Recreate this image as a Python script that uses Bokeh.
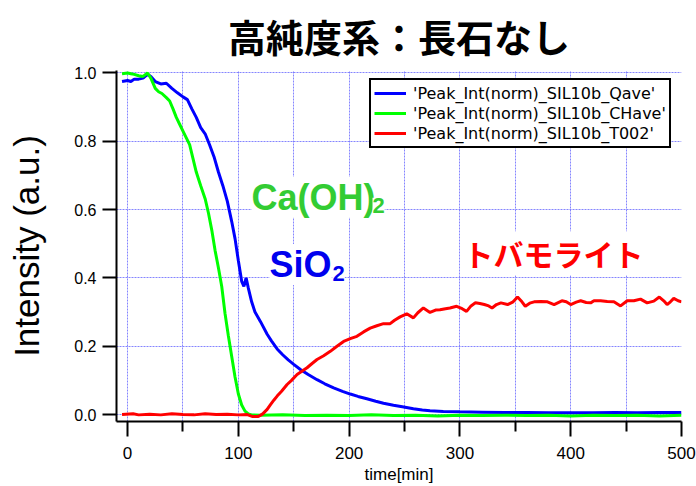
from bokeh.plotting import figure
from bokeh.models import FixedTicker, Label, Legend, LegendItem, Range1d, NumeralTickFormatter
from bokeh.embed import file_html
from bokeh.resources import INLINE

# ---- data ----
t_qave = [-5, 0, 3, 6, 10, 14, 18, 21, 25, 30, 35, 40, 45, 50, 54, 58, 62, 66, 70, 74, 78,
          82, 86, 90, 94, 97, 100, 103, 105, 107, 109, 112, 115, 120, 126, 130, 135, 140,
          145, 150, 156, 163, 171, 178, 186, 194, 201, 208, 216, 224, 231, 240, 248, 258,
          266, 273, 285, 300, 320, 340, 360, 380, 400, 420, 440, 460, 480, 500]
v_qave = [0.975, 0.978, 0.975, 0.982, 0.982, 0.985, 0.996, 0.99, 0.975, 0.968, 0.97, 0.955,
          0.942, 0.93, 0.922, 0.895, 0.87, 0.84, 0.822, 0.79, 0.755, 0.71, 0.67, 0.625,
          0.565, 0.515, 0.45, 0.39, 0.375, 0.40, 0.37, 0.33, 0.30, 0.272, 0.235, 0.215,
          0.192, 0.175, 0.16, 0.147, 0.132, 0.117, 0.102, 0.09, 0.078, 0.068, 0.06, 0.053,
          0.046, 0.039, 0.033, 0.027, 0.023, 0.017, 0.013, 0.011, 0.009, 0.008, 0.007,
          0.006, 0.006, 0.005, 0.005, 0.005, 0.006, 0.005, 0.006, 0.006]

t_chave = [-5, 0, 3, 6, 10, 14, 18, 21, 25, 28, 31, 35, 38, 41, 44, 47, 50, 53, 56, 59, 62,
           66, 70, 73, 76, 79, 82, 85, 88, 91, 94, 97, 100, 103, 106, 109, 112, 120, 140,
           160, 180, 200, 220, 240, 260, 280, 300, 320, 340, 360, 380, 400, 420, 440, 460,
           480, 500]
v_chave = [0.998, 1.0, 0.998, 0.996, 0.992, 0.99, 1.0, 0.985, 0.955, 0.945, 0.94, 0.928,
           0.918, 0.895, 0.87, 0.85, 0.83, 0.81, 0.79, 0.75, 0.71, 0.67, 0.632, 0.59, 0.54,
           0.48, 0.43, 0.375, 0.295, 0.23, 0.17, 0.11, 0.06, 0.028, 0.01, 0.002, -0.001,
           -0.002, -0.001, -0.003, -0.002, -0.003, -0.001, -0.003, -0.002, -0.004, -0.002,
           -0.003, -0.002, -0.003, -0.002, -0.004, -0.002, -0.003, -0.002, -0.004, -0.002]

t_t002 = [-5, 5, 10, 20, 30, 40, 50, 60, 70, 80, 90, 100, 108, 113, 118, 122, 126, 129,
          132, 135, 139, 144, 148, 153, 158, 162, 166, 171, 177, 183, 189, 195, 201, 207,
          213, 219, 225, 231, 237, 241, 246, 252, 258, 262, 267, 273, 278, 282, 287, 291,
          297, 302, 306, 310, 314, 318, 322, 326, 329, 333, 337, 343, 348, 352, 356, 359,
          363, 367, 373, 379, 385, 392, 396, 400, 405, 409, 414, 418, 421, 427, 433, 439,
          445, 451, 457, 463, 469, 475, 480, 484, 487, 490, 493, 497, 500]
v_t002 = [0.0, 0.002, -0.001, 0.001, -0.001, 0.002, 0.0, -0.001, 0.002, 0.0, 0.001, -0.001,
          0.0, -0.006, -0.006, 0.002, 0.015, 0.029, 0.042, 0.054, 0.068, 0.088, 0.1, 0.117,
          0.128, 0.137, 0.148, 0.161, 0.172, 0.185, 0.2, 0.214, 0.222, 0.229, 0.242, 0.253,
          0.26, 0.266, 0.266, 0.276, 0.286, 0.295, 0.283, 0.298, 0.312, 0.299, 0.306, 0.307,
          0.31, 0.312, 0.317, 0.31, 0.302, 0.318, 0.327, 0.325, 0.322, 0.318, 0.312, 0.322,
          0.327, 0.322, 0.33, 0.344, 0.33, 0.317, 0.326, 0.33, 0.331, 0.33, 0.322, 0.333,
          0.33, 0.322, 0.329, 0.333, 0.328, 0.327, 0.333, 0.333, 0.331, 0.33, 0.318, 0.333,
          0.333, 0.338, 0.327, 0.332, 0.344, 0.333, 0.322, 0.33, 0.34, 0.333, 0.33]

x_major = [0, 100, 200, 300, 400, 500]
x_minor = [50, 150, 250, 350, 450]
y_major = [0.0, 0.2, 0.4, 0.6, 0.8, 1.0]

series_names = ["'Peak_Int(norm)_SIL10b_Qave'", "'Peak_Int(norm)_SIL10b_CHave'",
                "'Peak_Int(norm)_SIL10b_T002'"]
series_colors = ["#0000ff", "#00ff00", "#ff0000"]

title_text = "高純度系：長石なし"

# ---- figure ----
p = figure(width=696, height=486, output_backend="svg", toolbar_location=None,
           x_range=Range1d(-10, 500), y_range=Range1d(-0.0204, 1.0073),
           min_border_left=116, min_border_right=15, min_border_top=70, min_border_bottom=64)
p.outline_line_color = None
p.background_fill_color = "white"
p.border_fill_color = "white"

p.title.text = title_text
p.title.align = "center"
p.title.vertical_align = "top"
p.title.text_font = "Liberation Sans, Noto Sans CJK JP"
p.title.text_font_size = "38px"
p.title.text_font_style = "bold"
p.title.text_color = "black"
p.title.standoff = 18

# axes
for ax in (p.xaxis[0], p.yaxis[0]):
    ax.axis_line_width = 2
    ax.axis_line_color = "black"
    ax.major_tick_line_width = 2
    ax.minor_tick_line_width = 2
    ax.major_tick_in = 0
    ax.minor_tick_in = 0
    ax.major_label_text_font = "Liberation Sans"
    ax.major_label_text_color = "black"
    ax.axis_label_text_font = "Liberation Sans"
    ax.axis_label_text_font_style = "normal"
    ax.axis_label_text_color = "black"

p.xaxis.ticker = FixedTicker(ticks=x_major, minor_ticks=x_minor)
p.xaxis.major_tick_out = 15
p.xaxis.minor_tick_out = 10
p.xaxis.major_label_text_font_size = "17px"
p.xaxis.major_label_standoff = 10
p.xaxis.axis_label = "time[min]"
p.xaxis.axis_label_text_font_size = "17px"
p.xaxis.axis_label_standoff = 3
p.xaxis.formatter = NumeralTickFormatter(format="0")

p.yaxis.ticker = FixedTicker(ticks=y_major, minor_ticks=[])
p.yaxis.major_tick_out = 14
p.yaxis.major_label_text_font_size = "16px"
p.yaxis.major_label_standoff = 6
p.yaxis.axis_label = "Intensity (a.u.)"
p.yaxis.axis_label_text_font_size = "35px"
p.yaxis.axis_label_standoff = 25
p.yaxis.formatter = NumeralTickFormatter(format="0.0")

# grids
p.xgrid.ticker = FixedTicker(ticks=sorted(x_major + x_minor))
p.ygrid.ticker = FixedTicker(ticks=y_major)
for g in (p.xgrid[0], p.ygrid[0]):
    g.grid_line_color = "#7070ff"
    g.grid_line_dash = "2 1"
    g.grid_line_width = 1
    g.grid_line_alpha = 0.85

# lines
r1 = p.line(t_qave, v_qave, line_color=series_colors[0], line_width=3)
r2 = p.line(t_chave, v_chave, line_color=series_colors[1], line_width=3)
r3 = p.line(t_t002, v_t002, line_color=series_colors[2], line_width=3)

legend = Legend(items=[LegendItem(label=series_names[0], renderers=[r1]),
                       LegendItem(label=series_names[1], renderers=[r2]),
                       LegendItem(label=series_names[2], renderers=[r3])],
                location=(253, 273))
legend.label_text_font = "DejaVu Sans"
legend.label_text_font_size = "16px"
legend.label_text_color = "black"
legend.glyph_width = 32
legend.glyph_height = 20
legend.label_height = 20
legend.label_standoff = 7
legend.spacing = 0
legend.padding = 3
legend.margin = 0
legend.border_line_color = "black"
legend.border_line_width = 2
legend.border_line_alpha = 1
legend.background_fill_color = "white"
legend.background_fill_alpha = 1
p.add_layout(legend)

# annotations
lab_ca = Label(x=111.9, y=0.636, text="Ca(OH)", text_font="Liberation Sans",
               text_font_size="36px", text_font_style="bold", text_color="#33cc33",
               text_baseline="alphabetic", background_fill_color="white")
lab_ca2 = Label(x=221.1, y=0.613, text="2", text_font="Liberation Sans",
                text_font_size="22px", text_font_style="bold", text_color="#33cc33",
                text_baseline="alphabetic", background_fill_color="white")
lab_si = Label(x=128.1, y=0.4392, text="SiO", text_font="Liberation Sans",
               text_font_size="36px", text_font_style="bold", text_color="#0000ee",
               text_baseline="alphabetic", background_fill_color="white")
lab_si2 = Label(x=185, y=0.4128, text="2", text_font="Liberation Sans",
                text_font_size="22px", text_font_style="bold", text_color="#0000ee",
                text_baseline="alphabetic", background_fill_color="white")
lab_tb = Label(x=303.2, y=0.472, text="トバモライト", text_font="Noto Sans CJK JP",
               text_font_size="30px", text_font_style="bold", text_color="#ff0000",
               text_baseline="middle", background_fill_color="white")
for lab in (lab_ca, lab_ca2, lab_si, lab_si2, lab_tb):
    p.add_layout(lab)

open("out.html", "w").write(file_html(p, INLINE))
